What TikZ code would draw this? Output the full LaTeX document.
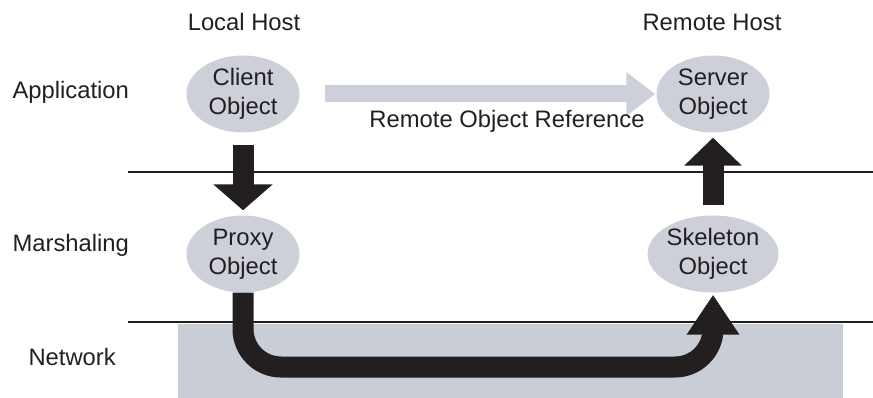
\documentclass[tikz,border=0pt]{standalone}
\usepackage{fontspec}
\setmainfont{Liberation Sans}
\usetikzlibrary{arrows.meta,shapes.geometric}
\definecolor{objfill}{RGB}{205,208,216}
\definecolor{netfill}{RGB}{201,205,213}
\definecolor{ink}{RGB}{35,31,32}
\begin{document}
\begin{tikzpicture}[x=1pt,y=-1pt,
  font=\fontsize{23.8}{29}\selectfont,
  obj/.style={ellipse, fill=objfill, minimum width=113pt, minimum height=77pt,
              inner sep=0pt, align=center, text=ink},
  lbl/.style={text=ink},
  layer/.style={draw=ink, line width=1.8pt},
  bigarrow/.style={draw=ink, line width=21pt}]
\useasboundingbox (0,0) rectangle (873,398);

% network band and layer separators
\fill[netfill] (178,324) rectangle (843,398);
\draw[layer] (128,172) -- (873,172);
\draw[layer] (128,322) -- (873,322);

% column and row headings
\node[lbl] (local) at (244,22) {Local Host};
\node[lbl] (remote) at (712,22) {Remote Host};
\node[lbl, anchor=west] (app) at (9,92) {Application};
\node[lbl, anchor=west] (mar) at (9,245) {Marshaling};
\node[lbl, anchor=west] (net) at (25,357) {Network};

% objects
\node[obj] (client) at (243,94) {Client\\Object};
\node[obj] (server) at (713,94) {Server\\Object};
\node[obj] (proxy) at (243,254) {Proxy\\Object};
\node[obj] (skeleton) at (713,254) {Skeleton\\Object};

% remote reference
\draw[objfill, line width=17pt, -{Triangle[width=42pt,length=29pt]},
      shorten <=25pt, shorten >=1pt] (client.east) -- (server.west);
\node[lbl] (ref) at (507,121) {Remote Object Reference};

% local call down to the proxy
\draw[bigarrow, -{Triangle[width=58pt,length=26pt]},
      shorten <=12pt, shorten >=5pt] (client.south) -- (proxy.north);

% skeleton up to the server
\draw[bigarrow, -{Triangle[width=56pt,length=28pt]},
      shorten <=10pt, shorten >=5pt] (skeleton.north) -- (server.south);

% transfer across the network
\draw[bigarrow, rounded corners=38pt, -{Triangle[width=50pt,length=40pt]},
      shorten >=2pt]
  (proxy.south) -- (proxy.south |- 0,367) -- (skeleton.south |- 0,367)
  -- (skeleton.south);
\end{tikzpicture}
\end{document}
